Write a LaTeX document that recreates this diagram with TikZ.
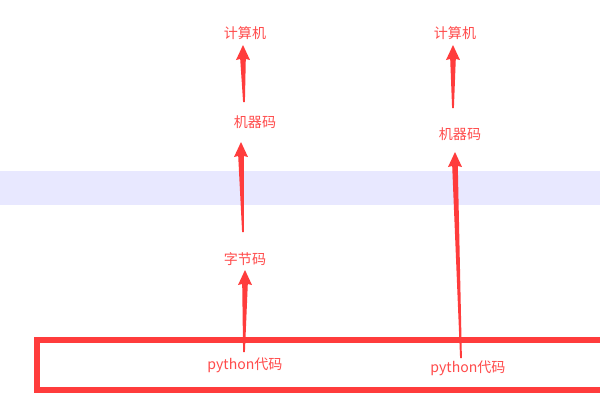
\documentclass[tikz,border=0pt]{standalone}
\usepackage{fontspec}
\newfontfamily\cjk{Noto Sans CJK SC}
\usetikzlibrary{calc}

\definecolor{arrowred}{RGB}{255,60,60}
\definecolor{labelred}{RGB}{255,75,75}
\definecolor{bandblue}{RGB}{232,232,255}

% tapered arrow: thin at the tail, wide head at the tip
\newcommand\taperarrow[2]{%
  \path (#1) coordinate (ta) (#2) coordinate (tb);
  \fill[arrowred] ($(ta)+(-0.9,0)$) -- ($(tb)+(-2.8,14)$) -- ($(tb)+(-7,15)$) -- (tb)
    -- ($(tb)+(7,15)$) -- ($(tb)+(2.8,14)$) -- ($(ta)+(0.9,0)$) -- cycle;}

\begin{document}
\begin{tikzpicture}[x=0.02cm,y=-0.02cm]
\tikzset{label/.style={text=labelred, font=\cjk\fontsize{8pt}{10pt}\selectfont, inner sep=1pt}}
\tikzset{frame/.style={draw=arrowred, line width=0.12cm}}
\clip (0,0) rectangle (600,400);
\fill[white] (0,0) rectangle (600,400);
\fill[bandblue] (0,171) rectangle (600,205);
\draw[frame] (37,340) rectangle (620,390);

\node[label] (code1) at (245,365) {python代码};
\node[label] (code2) at (468,368) {python代码};
\node[label] (byte1) at (245,259) {字节码};
\node[label] (mach1) at (255,122) {机器码};
\node[label] (mach2) at (460,134) {机器码};
\node[label] (comp1) at (245,33) {计算机};
\node[label] (comp2) at (455,33) {计算机};

\taperarrow{$(code1)+(-1,-13)$}{$(byte1)+(0,11)$}
\taperarrow{$(byte1)+(-2,-27)$}{$(mach1)+(-14,20)$}
\taperarrow{$(mach1)+(-11,-20)$}{$(comp1)+(-2,12)$}
\taperarrow{$(code2)+(-7,-10)$}{$(mach2)+(-5,18)$}
\taperarrow{$(mach2)+(-7,-26)$}{$(comp2)+(-2,12)$}
\end{tikzpicture}
\end{document}
